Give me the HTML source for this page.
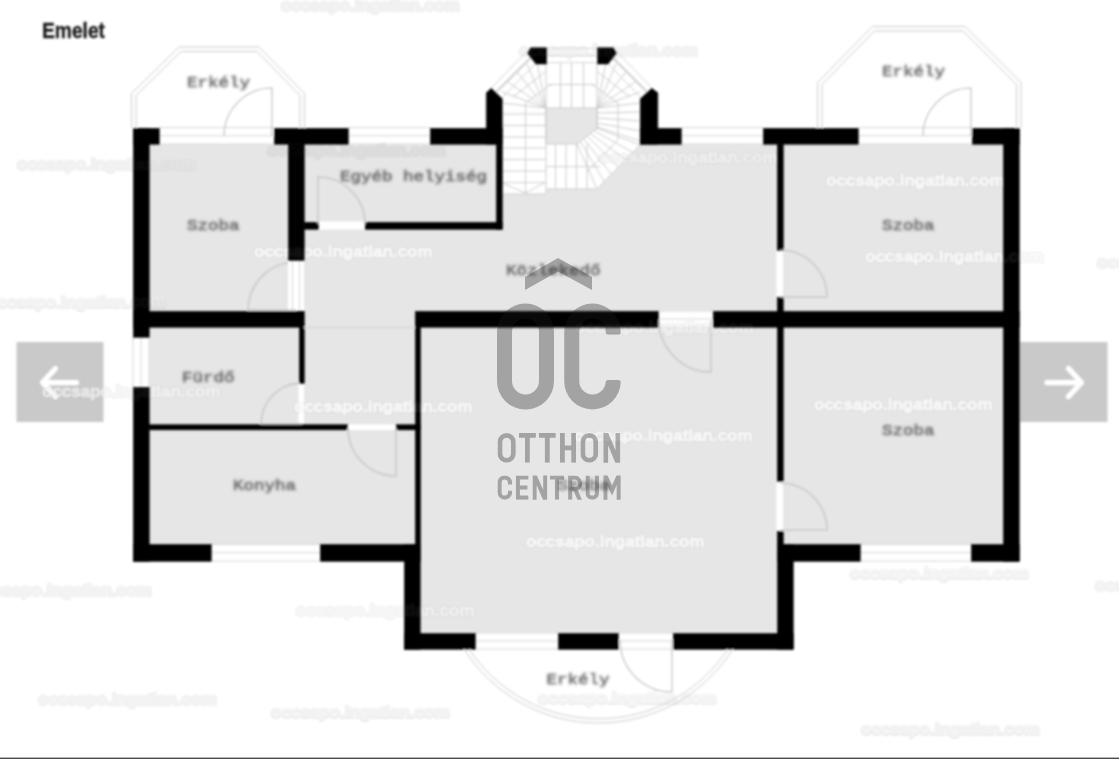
<!DOCTYPE html>
<html><head><meta charset="utf-8"><title>Emelet</title>
<style>
html,body{margin:0;padding:0;background:#fff;}
body{width:1119px;height:759px;overflow:hidden;position:relative;font-family:"Liberation Sans",sans-serif;}
svg{position:absolute;left:0;top:0;display:block}
.lab text{font-family:"Liberation Mono",monospace;font-size:15px;fill:#686868;stroke:#686868;stroke-width:0.55px;}
.wm text{font-family:"Liberation Sans",sans-serif;font-weight:bold;font-size:17px;fill:#fff;stroke:#fff;stroke-width:1.3px;stroke-linejoin:round;}
.wmsh text{font-family:"Liberation Sans",sans-serif;font-weight:bold;font-size:17px;fill:#000;stroke:#000;stroke-width:2px;stroke-linejoin:round;}
.ttl{font-family:"Liberation Sans",sans-serif;font-weight:bold;font-size:21.4px;fill:#1e1e1e;stroke:#1e1e1e;stroke-width:0.4px;}
</style></head>
<body>
<svg width="1119" height="759" viewBox="0 0 1119 759">
<defs>
<filter id="b1" x="-5%" y="-5%" width="110%" height="110%"><feGaussianBlur stdDeviation="0.85"/></filter>
<filter id="b2" x="-10%" y="-50%" width="120%" height="200%"><feGaussianBlur stdDeviation="1.3"/></filter>
<filter id="b3" x="-10%" y="-50%" width="120%" height="200%"><feGaussianBlur stdDeviation="0.8"/></filter>
<filter id="b4" x="-10%" y="-50%" width="120%" height="200%"><feGaussianBlur stdDeviation="1.0"/></filter>
<filter id="b5" x="-10%" y="-50%" width="120%" height="200%"><feGaussianBlur stdDeviation="0.8"/></filter>
</defs>
<rect width="1119" height="759" fill="#fff"/>
<g filter="url(#b1)">
<rect x="149" y="144" width="855" height="400" fill="#e6e6e6" />
<rect x="420" y="544" width="357" height="89" fill="#e6e6e6" />
<polygon points="502,128 640,128 640,145 597,189 546,189 546,194 502,194" fill="#fff"/>
<polygon points="546,108 597,108 597,128 577,144 546,144" fill="#e6e6e6" stroke="#cbcbcb" stroke-width="1"/>
<path d="M502 114H546 M502 125.5H546 M502 137H546 M502 148H546 M502 159.5H546 M502 171H546 M502 182.5H546 M525.5 103V193 M502 183L525.5 193L546 182 M546 108V194 M502 194H546 M555.5 144V189 M566 144V189 M576.5 144V189 M587 144V189 M546 166.5H600 M546 189H597 M597 108V130 M560.5 63V108 M571.5 63V108 M583.5 63V108 M546 63V108 M597 63V108 M548 84.5H595 M546 108L537 63 M546 108L527 64 M546 108L517 72 M546 108L508 82 M546 108L502 92 M546 108L502 103 M597 108L606 63 M597 108L616 64 M597 108L626 72 M597 108L635 82 M597 108L640 92 M597 108L640 103 M597 113L640 112 M597 118L640 121 M597 123L640 131 M597 127L640 141 M597.0 128.0L640.0 145.0 M593.7 130.7L632.8 152.3 M590.3 133.3L625.7 159.7 M587.0 136.0L618.5 167.0 M583.7 138.7L611.3 174.3 M580.3 141.3L604.2 181.7 M577.0 144.0L597.0 189.0 M640 145L597 189 M525.5 103L551 84.5 M592 84.5L618 103V140L587 172 M513 97L545 72 M598 72L630 97" fill="none" stroke="#cbcbcb" stroke-width="1"/>
<rect x="159" y="127" width="115" height="17.5" fill="#fff" /><path d="M159 127.5H274 M159 135.75H274 M159 144.0H274" stroke="#d4d4d4" stroke-width="1" fill="none"/>
<rect x="348" y="127" width="82" height="17.5" fill="#fff" /><path d="M348 127.5H430 M348 135.75H430 M348 144.0H430" stroke="#d4d4d4" stroke-width="1" fill="none"/>
<rect x="681" y="127" width="82" height="17.5" fill="#fff" /><path d="M681 127.5H763 M681 135.75H763 M681 144.0H763" stroke="#d4d4d4" stroke-width="1" fill="none"/>
<rect x="858" y="127" width="114" height="17.5" fill="#fff" /><path d="M858 127.5H972 M858 135.75H972 M858 144.0H972" stroke="#d4d4d4" stroke-width="1" fill="none"/>
<rect x="546" y="48" width="51" height="15" fill="#fff" /><path d="M546 48.5H597 M546 55.5H597 M546 62.5H597" stroke="#d4d4d4" stroke-width="1" fill="none"/>
<rect x="211" y="544" width="109" height="17.5" fill="#fff" /><path d="M211 544.5H320 M211 552.75H320 M211 561.0H320" stroke="#d4d4d4" stroke-width="1" fill="none"/>
<rect x="860" y="544" width="111" height="17.5" fill="#fff" /><path d="M860 544.5H971 M860 552.75H971 M860 561.0H971" stroke="#d4d4d4" stroke-width="1" fill="none"/>
<rect x="475" y="632.5" width="83" height="17.0" fill="#fff" /><path d="M475 633.0H558 M475 641.0H558 M475 649.0H558" stroke="#d4d4d4" stroke-width="1" fill="none"/>
<rect x="618" y="632.5" width="55" height="17.0" fill="#fff" /><path d="M618 633.0H673 M618 641.0H673 M618 649.0H673" stroke="#d4d4d4" stroke-width="1" fill="none"/>
<rect x="658" y="310.5" width="55" height="17.0" fill="#fff" /><path d="M658 311.0H713 M658 319.0H713 M658 327.0H713" stroke="#d4d4d4" stroke-width="1" fill="none"/>
<rect x="132.5" y="337" width="17.0" height="50" fill="#fff" /><path d="M133.0 337V387 M141.0 337V387 M149.0 337V387" stroke="#d4d4d4" stroke-width="1" fill="none"/>
<rect x="288" y="260" width="16" height="51" fill="#fff" />
<path d="M292.5 260V311 M299.5 260V311" stroke="#d4d4d4" fill="none"/>
<rect x="298.5" y="383" width="5.5" height="41" fill="#fff" />
<rect x="318" y="221.5" width="47" height="8.0" fill="#fff" />
<rect x="347" y="424.5" width="49" height="5.5" fill="#fff" />
<rect x="776.5" y="250" width="6.5" height="47" fill="#fff" />
<rect x="776.5" y="481" width="6.5" height="50" fill="#fff" />
<path d="M491.4 88L527.7 50.5" stroke="#d2d2d2" stroke-width="1" fill="none"/>
<path d="M652.0 88L615.7 50.5" stroke="#d2d2d2" stroke-width="1" fill="none"/>
<path d="M496.6 91.8L531.4 57" stroke="#d2d2d2" stroke-width="2.2" fill="none"/>
<path d="M646.8 91.8L612.0 57" stroke="#d2d2d2" stroke-width="2.2" fill="none"/>
<path d="M502.4 97.6L536.2 62.9" stroke="#d2d2d2" stroke-width="1" fill="none"/>
<path d="M641.0 97.6L607.2 62.9" stroke="#d2d2d2" stroke-width="1" fill="none"/>

<!-- nav buttons -->
<rect x="16.5" y="342" width="87" height="80" fill="#c9c9c9"/>
<path d="M43.5 382.6H76.5 M55.5 368.6L42.5 382.6L55.5 396.6" fill="none" stroke="#fff" stroke-width="5.2" stroke-linecap="round" stroke-linejoin="round"/>
<rect x="1019.5" y="342" width="88" height="80" fill="#c9c9c9"/>
<path d="M1047 382.6H1080.5 M1068.5 368.6L1081.5 382.6L1068.5 396.6" fill="none" stroke="#fff" stroke-width="5.2" stroke-linecap="round" stroke-linejoin="round"/>
</g>
<!-- watermarks -->
<g class="wmsh" filter="url(#b2)" opacity="0.085">
<text x="281" y="11.0">occsapo.ingatlan.com</text>
<text x="519" y="56.0">occsapo.ingatlan.com</text>
<text x="17" y="170.0">occsapo.ingatlan.com</text>
<text x="267" y="156.0">occsapo.ingatlan.com</text>
<text x="599" y="163.0">occsapo.ingatlan.com</text>
<text x="826" y="186.0">occsapo.ingatlan.com</text>
<text x="254" y="257.0">occsapo.ingatlan.com</text>
<text x="865" y="262.0">occsapo.ingatlan.com</text>
<text x="1097" y="268.0">occsapo.ingatlan.com</text>
<text x="-13" y="307.5">occsapo.ingatlan.com</text>
<text x="575" y="333.0">occsapo.ingatlan.com</text>
<text x="42" y="397.0">occsapo.ingatlan.com</text>
<text x="294" y="412.0">occsapo.ingatlan.com</text>
<text x="814" y="410.0">occsapo.ingatlan.com</text>
<text x="574" y="441.0">occsapo.ingatlan.com</text>
<text x="526" y="547.0">occsapo.ingatlan.com</text>
<text x="850" y="578.5">occsapo.ingatlan.com</text>
<text x="-27" y="596.0">occsapo.ingatlan.com</text>
<text x="296" y="616.0">occsapo.ingatlan.com</text>
<text x="1095" y="591.0">occsapo.ingatlan.com</text>
<text x="38" y="705.0">occsapo.ingatlan.com</text>
<text x="271" y="717.5">occsapo.ingatlan.com</text>
<text x="538" y="703.5">occsapo.ingatlan.com</text>
<text x="861" y="734.5">occsapo.ingatlan.com</text>
</g>
<g class="wm" filter="url(#b4)" opacity="0.82">
<text x="281" y="10.5" opacity="0.5">occsapo.ingatlan.com</text>
<text x="519" y="55.5" opacity="0.6">occsapo.ingatlan.com</text>
<text x="17" y="169.5" opacity="0.5">occsapo.ingatlan.com</text>
<text x="267" y="155.5" opacity="0.3">occsapo.ingatlan.com</text>
<text x="599" y="162.5" opacity="0.75">occsapo.ingatlan.com</text>
<text x="826" y="185.5" opacity="1">occsapo.ingatlan.com</text>
<text x="254" y="256.5" opacity="1">occsapo.ingatlan.com</text>
<text x="865" y="261.5" opacity="1">occsapo.ingatlan.com</text>
<text x="1097" y="267.5" opacity="0.6">occsapo.ingatlan.com</text>
<text x="-13" y="307" opacity="0.6">occsapo.ingatlan.com</text>
<text x="575" y="332.5" opacity="0.8">occsapo.ingatlan.com</text>
<text x="42" y="396.5" opacity="0.8">occsapo.ingatlan.com</text>
<text x="294" y="411.5" opacity="1">occsapo.ingatlan.com</text>
<text x="814" y="409.5" opacity="1">occsapo.ingatlan.com</text>
<text x="574" y="440.5" opacity="1">occsapo.ingatlan.com</text>
<text x="526" y="546.5" opacity="1">occsapo.ingatlan.com</text>
<text x="850" y="578" opacity="0.7">occsapo.ingatlan.com</text>
<text x="-27" y="595.5" opacity="0.6">occsapo.ingatlan.com</text>
<text x="296" y="615.5" opacity="0.8">occsapo.ingatlan.com</text>
<text x="1095" y="590.5" opacity="0.6">occsapo.ingatlan.com</text>
<text x="38" y="704.5" opacity="0.6">occsapo.ingatlan.com</text>
<text x="271" y="717" opacity="0.6">occsapo.ingatlan.com</text>
<text x="538" y="703" opacity="0.7">occsapo.ingatlan.com</text>
<text x="861" y="734" opacity="0.6">occsapo.ingatlan.com</text>
</g>
<g filter="url(#b1)">

<g stroke="#000" stroke-width="0.5" transform="translate(0.3,0.3)">
<rect x="133" y="128" width="16" height="209" fill="#000" />
<rect x="133" y="387" width="16" height="174" fill="#000" />
<rect x="133" y="128" width="26" height="16" fill="#000" />
<rect x="274" y="128" width="74" height="16" fill="#000" />
<rect x="430" y="128" width="72" height="16" fill="#000" />
<rect x="640" y="128" width="41" height="16" fill="#000" />
<rect x="763" y="128" width="95" height="16" fill="#000" />
<rect x="972" y="128" width="47" height="16" fill="#000" />
<rect x="288" y="144" width="16" height="116" fill="#000" />
<rect x="133" y="311" width="171" height="16" fill="#000" />
<rect x="415" y="311" width="243" height="16" fill="#000" />
<rect x="713" y="311" width="306" height="16" fill="#000" />
<rect x="1003" y="128" width="16" height="433" fill="#000" />
<rect x="133" y="544" width="78" height="17" fill="#000" />
<rect x="320" y="544" width="100" height="17" fill="#000" />
<rect x="777" y="544" width="83" height="17" fill="#000" />
<rect x="971" y="544" width="48" height="17" fill="#000" />
<rect x="404" y="544" width="16" height="105" fill="#000" />
<rect x="777" y="544" width="16" height="105" fill="#000" />
<rect x="404" y="633" width="71" height="16" fill="#000" />
<rect x="558" y="633" width="60" height="16" fill="#000" />
<rect x="673" y="633" width="120" height="16" fill="#000" />
<rect x="304" y="222" width="14" height="7" fill="#000" />
<rect x="365" y="222" width="137" height="7" fill="#000" />
<rect x="496" y="144" width="6" height="85" fill="#000" />
<rect x="299" y="327" width="5" height="56" fill="#000" />
<rect x="149" y="424.4" width="198" height="5.2000000000000455" fill="#000" />
<rect x="396" y="424.4" width="24" height="5.2000000000000455" fill="#000" />
<rect x="415" y="327" width="5.300000000000011" height="217" fill="#000" />
<rect x="777" y="144" width="6" height="106" fill="#000" />
<rect x="777" y="297" width="6" height="184" fill="#000" />
<rect x="777" y="531" width="6" height="13" fill="#000" />
<polygon points="486,144 486,92.5 491,88 502,98.5 502,144"/>
<polygon points="657.5,144 657.5,92.5 651.5,88 640,98.5 640,144"/>
<polygon points="527.3,53 530.4,47.5 546.2,47.5 546.2,63.7 535.6,63.7"/>
<polygon points="616.1,53 613,47.5 597.2,47.5 597.2,63.7 607.8,63.7"/>
</g>
<path d="M304 327.5H415" stroke="#bdbdbd" stroke-width="1" stroke-dasharray="2.5 2" fill="none"/>
<polyline points="131.5,128 131.5,93.5 179,47 259,47 304.5,93.5 304.5,128" fill="none" stroke="#cbcbcb" stroke-width="1"/>
<polyline points="136,128 136,95.5 181,51.5 257,51.5 300,95.5 300,128" fill="none" stroke="#cbcbcb" stroke-width="1"/>
<polyline points="817.5,128 817.5,82.5 872.5,26.5 965,26.5 1021,82.5 1021,128" fill="none" stroke="#cbcbcb" stroke-width="1"/>
<polyline points="822,128 822,84.5 874.5,31 963,31 1016.5,84.5 1016.5,128" fill="none" stroke="#cbcbcb" stroke-width="1"/>
<path d="M464 649A159.2 159.2 0 0 0 733 649" fill="none" stroke="#cbcbcb" stroke-width="1"/>
<path d="M469 649A155 155 0 0 0 728 649" fill="none" stroke="#cbcbcb" stroke-width="1"/>
<path d="M272 136V88A48 48 0 0 0 224 136 M318 224V177A47 47 0 0 1 365 224 M296 310H248 M288 262.7A48 48 0 0 0 248 310 M302 424H261 M299 383.1A41 41 0 0 0 261 424 M396 428V476A48 48 0 0 1 348 428 M711 320V372A52 52 0 0 1 659 320 M780 297H827A47 47 0 0 0 780 250 M780 530H827A47 47 0 0 0 780 483 M971 136V88A48 48 0 0 0 923 136 M672 640V692A52 52 0 0 1 620 640" fill="none" stroke="#bdbdbd" stroke-width="1.1"/>
<g class="lab" filter="url(#b5)">
<text x="187" y="86.5" textLength="63.0" lengthAdjust="spacingAndGlyphs">Erkély</text>
<text x="882" y="76" textLength="63.0" lengthAdjust="spacingAndGlyphs">Erkély</text>
<text x="546.5" y="684" textLength="63.0" lengthAdjust="spacingAndGlyphs">Erkély</text>
<text x="187" y="230" textLength="52.5" lengthAdjust="spacingAndGlyphs">Szoba</text>
<text x="882" y="230" textLength="52.5" lengthAdjust="spacingAndGlyphs">Szoba</text>
<text x="882" y="435" textLength="52.5" lengthAdjust="spacingAndGlyphs">Szoba</text>
<text x="557.5" y="490" opacity='0.85' textLength="52.5" lengthAdjust="spacingAndGlyphs">Szoba</text>
<text x="340" y="181" textLength="147.0" lengthAdjust="spacingAndGlyphs">Egyéb helyiség</text>
<text x="506" y="274.5" textLength="94.5" lengthAdjust="spacingAndGlyphs">Közlekedő</text>
<text x="182" y="382" textLength="52.5" lengthAdjust="spacingAndGlyphs">Fürdő</text>
<text x="233" y="489.5" textLength="63.0" lengthAdjust="spacingAndGlyphs">Konyha</text>
</g>
<text class="ttl" x="42" y="38.3" textLength="63" lengthAdjust="spacingAndGlyphs">Emelet</text>
</g>
<g class="wm" filter="url(#b4)" opacity="0.07">
<text x="281" y="10.5" opacity="0.5">occsapo.ingatlan.com</text>
<text x="519" y="55.5" opacity="0.6">occsapo.ingatlan.com</text>
<text x="17" y="169.5" opacity="0.5">occsapo.ingatlan.com</text>
<text x="267" y="155.5" opacity="0.3">occsapo.ingatlan.com</text>
<text x="599" y="162.5" opacity="0.75">occsapo.ingatlan.com</text>
<text x="826" y="185.5" opacity="1">occsapo.ingatlan.com</text>
<text x="254" y="256.5" opacity="1">occsapo.ingatlan.com</text>
<text x="865" y="261.5" opacity="1">occsapo.ingatlan.com</text>
<text x="1097" y="267.5" opacity="0.6">occsapo.ingatlan.com</text>
<text x="-13" y="307" opacity="0.6">occsapo.ingatlan.com</text>
<text x="575" y="332.5" opacity="0.8">occsapo.ingatlan.com</text>
<text x="42" y="396.5" opacity="0.8">occsapo.ingatlan.com</text>
<text x="294" y="411.5" opacity="1">occsapo.ingatlan.com</text>
<text x="814" y="409.5" opacity="1">occsapo.ingatlan.com</text>
<text x="574" y="440.5" opacity="1">occsapo.ingatlan.com</text>
<text x="526" y="546.5" opacity="1">occsapo.ingatlan.com</text>
<text x="850" y="578" opacity="0.7">occsapo.ingatlan.com</text>
<text x="-27" y="595.5" opacity="0.6">occsapo.ingatlan.com</text>
<text x="296" y="615.5" opacity="0.8">occsapo.ingatlan.com</text>
<text x="1095" y="590.5" opacity="0.6">occsapo.ingatlan.com</text>
<text x="38" y="704.5" opacity="0.6">occsapo.ingatlan.com</text>
<text x="271" y="717" opacity="0.6">occsapo.ingatlan.com</text>
<text x="538" y="703" opacity="0.7">occsapo.ingatlan.com</text>
<text x="861" y="734" opacity="0.6">occsapo.ingatlan.com</text>
</g>
<!-- logo overlay -->
<g fill="#1c1c1c" opacity="0.33">
<polygon points="558,258 592,277 592,290 558,271.5 525,290 525,277"/>
<path fill-rule="evenodd" d="M525.5 303.5A28.5 28.5 0 0 1 554 332V381A28.5 28.5 0 0 1 497 381V332A28.5 28.5 0 0 1 525.5 303.5ZM525.5 318.5A13.5 13.5 0 0 0 512 332V381A13.5 13.5 0 0 0 539 381V332A13.5 13.5 0 0 0 525.5 318.5Z"/>
<path d="M592.5 303.5A28.25 28.25 0 0 1 620.75 331.75V332a2.5 2.5 0 0 1 -2.5 2.5H608.25a2.5 2.5 0 0 1 -2.5 -2.5V331.75A13.25 13.25 0 0 0 579.25 331.75V381.25A13.25 13.25 0 0 0 605.75 381.25V382.5a2.5 2.5 0 0 1 2.5 -2.5H618.25a2.5 2.5 0 0 1 2.5 2.5V381.25A28.25 28.25 0 0 1 564.25 381.25V331.75A28.25 28.25 0 0 1 592.5 303.5Z"/>
<clipPath id="lc1"><rect x="497.5" y="433" width="18.299999999999955" height="29.69999999999999"/></clipPath><path d="M499.9 442.15A6.75 6.75 0 0 1 513.4 442.15V453.55A6.75 6.75 0 0 1 499.9 453.55Z" clip-path="url(#lc1)" fill="none" stroke="#1c1c1c" stroke-width="4.8" stroke-linejoin="miter" stroke-miterlimit="10"/><clipPath id="lc2"><rect x="518.9" y="433" width="17.0" height="29.69999999999999"/></clipPath><path d="M518.9 435.4H535.9M527.4 433V462.7" clip-path="url(#lc2)" fill="none" stroke="#1c1c1c" stroke-width="4.8" stroke-linejoin="miter" stroke-miterlimit="10"/><clipPath id="lc3"><rect x="538.8" y="433" width="17.0" height="29.69999999999999"/></clipPath><path d="M538.8 435.4H555.8M547.3 433V462.7" clip-path="url(#lc3)" fill="none" stroke="#1c1c1c" stroke-width="4.8" stroke-linejoin="miter" stroke-miterlimit="10"/><clipPath id="lc4"><rect x="560" y="433" width="16.100000000000023" height="29.69999999999999"/></clipPath><path d="M562.4 433V462.7M573.7 433V462.7M562.4 447.85H573.7" clip-path="url(#lc4)" fill="none" stroke="#1c1c1c" stroke-width="4.8" stroke-linejoin="miter" stroke-miterlimit="10"/><clipPath id="lc5"><rect x="580.4" y="433" width="17.800000000000068" height="29.69999999999999"/></clipPath><path d="M582.8 441.90000000000003A6.500000000000057 6.500000000000057 0 0 1 595.8000000000001 441.90000000000003V453.79999999999995A6.500000000000057 6.500000000000057 0 0 1 582.8 453.79999999999995Z" clip-path="url(#lc5)" fill="none" stroke="#1c1c1c" stroke-width="4.8" stroke-linejoin="miter" stroke-miterlimit="10"/><clipPath id="lc6"><rect x="603.3" y="433" width="17.0" height="29.69999999999999"/></clipPath><path d="M605.6999999999999 482.7V433L617.9 462.7V413" clip-path="url(#lc6)" fill="none" stroke="#1c1c1c" stroke-width="4.8" stroke-linejoin="miter" stroke-miterlimit="10"/><clipPath id="lc7"><rect x="497.5" y="475.4" width="14.600000000000023" height="24.30000000000001"/></clipPath><path d="M510.05 484.401V482.7A5.25 5.25 0 0 0 499.55 482.7V492.4A5.25 5.25 0 0 0 510.05 492.4V490.69899999999996" clip-path="url(#lc7)" fill="none" stroke="#1c1c1c" stroke-width="4.1" stroke-linejoin="miter" stroke-miterlimit="10"/><clipPath id="lc8"><rect x="515.8" y="475.4" width="12.800000000000068" height="24.30000000000001"/></clipPath><path d="M528.6 477.45H517.8499999999999V497.65H528.6M517.8499999999999 487.54999999999995H527.4" clip-path="url(#lc8)" fill="none" stroke="#1c1c1c" stroke-width="4.1" stroke-linejoin="miter" stroke-miterlimit="10"/><clipPath id="lc9"><rect x="532.5" y="475.4" width="14.799999999999955" height="24.30000000000001"/></clipPath><path d="M534.55 519.7V475.4L545.25 499.7V455.4" clip-path="url(#lc9)" fill="none" stroke="#1c1c1c" stroke-width="4.1" stroke-linejoin="miter" stroke-miterlimit="10"/><clipPath id="lc10"><rect x="549.8" y="475.4" width="14.400000000000091" height="24.30000000000001"/></clipPath><path d="M549.8 477.45H564.2M557.0 475.4V499.7" clip-path="url(#lc10)" fill="none" stroke="#1c1c1c" stroke-width="4.1" stroke-linejoin="miter" stroke-miterlimit="10"/><clipPath id="lc11"><rect x="568.1" y="475.4" width="14.0" height="24.30000000000001"/></clipPath><path d="M570.15 499.7V477.45H574.2710000000001A5.778999999999996 5.778999999999996 0 0 1 574.2710000000001 489.008H570.15M575.1 489.008L580.0500000000001 500.7" clip-path="url(#lc11)" fill="none" stroke="#1c1c1c" stroke-width="4.1" stroke-linejoin="miter" stroke-miterlimit="10"/><clipPath id="lc12"><rect x="585.5" y="475.4" width="13.5" height="24.30000000000001"/></clipPath><path d="M587.55 475.4V492.94999999999993A4.7000000000000455 4.7000000000000455 0 0 0 596.95 492.94999999999993V475.4" clip-path="url(#lc12)" fill="none" stroke="#1c1c1c" stroke-width="4.1" stroke-linejoin="miter" stroke-miterlimit="10"/><clipPath id="lc13"><rect x="603.3" y="475.4" width="17.5" height="24.30000000000001"/></clipPath><path d="M605.3499999999999 519.7V475.4L612.05 490.466L618.75 475.4V519.7" clip-path="url(#lc13)" fill="none" stroke="#1c1c1c" stroke-width="4.1" stroke-linejoin="miter" stroke-miterlimit="10"/>
</g>
<!-- bottom line -->
<rect x="0" y="757" width="1119" height="1" fill="#b4b4b4"/>
<rect x="0" y="758" width="1119" height="1" fill="#4a4a4a"/>
</svg>
</body></html>
